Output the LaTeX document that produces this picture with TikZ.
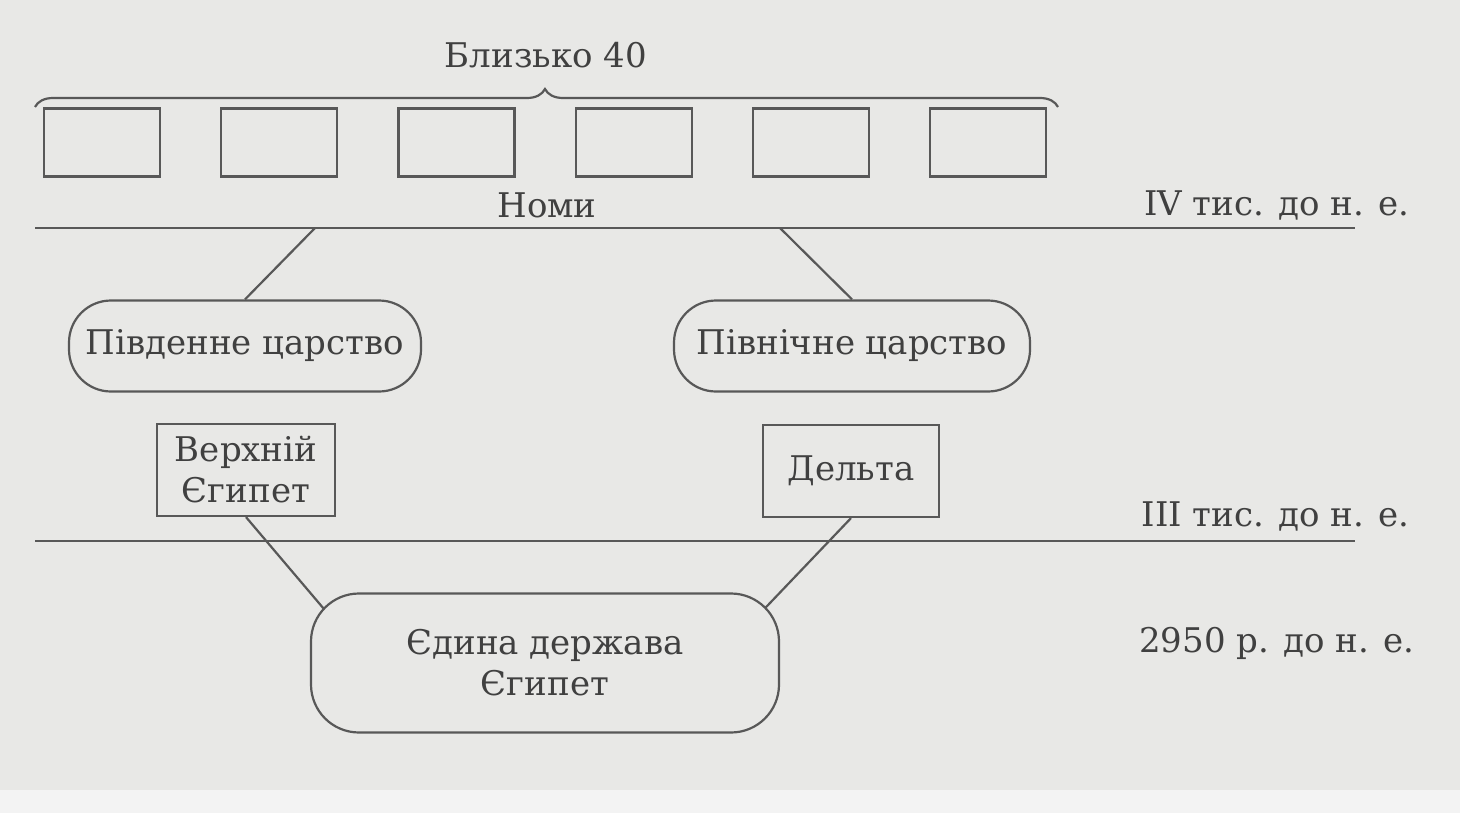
\documentclass[tikz,border=0pt]{standalone}
\usepackage{fontspec}
\setmainfont{DejaVu Serif}
\usepackage{xcolor}
\usepackage{tikz}
\usetikzlibrary{
  positioning,
  backgrounds,
  calc,
  decorations.pathreplacing
}
\tikzset{
  base/.style={
    rectangle, align=center, inner sep=0pt,
    draw=lineGray, line width=1.1pt, fill=pageGray, text=inkGray,
    font=\fontsize{17}{20.5}\selectfont
  },
  lbl/.style={font=\fontsize{17}{20.5}\selectfont, text=inkGray, inner sep=0pt},
  link/.style={draw=lineGray, line width=1.1pt}
}
\definecolor{pageGray}{HTML}{E8E8E6}
\definecolor{stripGray}{HTML}{F3F3F3}
\definecolor{lineGray}{HTML}{585858}
\definecolor{inkGray}{HTML}{404040}

\begin{document}
\begin{tikzpicture}[x=0.5pt, y=-0.5pt,
    cell/.style={base, minimum width=58pt, minimum height=34pt},
    kingdom/.style={base, rounded corners=21pt, minimum height=45.5pt},
    region/.style={base, minimum height=46pt},
    era/.style={lbl, anchor=east},
    rule/.style={draw=lineGray, line width=1.1pt}
  ]
  \useasboundingbox (0,0) rectangle (1460,813);
  \begin{scope}[on background layer]
    \fill[pageGray] (0,0) rectangle (1460,790);
    \fill[stripGray] (0,790) rectangle (1460,813);
  \end{scope}

  % nomes
  \node[lbl] (Count) at (546,55) {Близько 40};
  \node[cell] (N1) at (102,142.5) {};
  \node[cell, right=29.5pt of N1] (N2) {};
  \node[cell, right=29.5pt of N2] (N3) {};
  \node[cell, right=29.5pt of N3] (N4) {};
  \node[cell, right=29.5pt of N4] (N5) {};
  \node[cell, right=29.5pt of N5] (N6) {};
  \draw[rule, decorate, decoration={brace, amplitude=9pt, aspect=0.4985}]
    (35,107) -- (1058,107);

  \node[lbl] (Nomy) at (547,205) {Номи};
  \node[era] (E4) at (1410,205) {IV тис. до н. е.};
  \draw[rule] (35,228) -- (1355,228);
  \coordinate (n1) at (315,228);
  \coordinate (n2) at (780,228);

  % kingdoms
  \node[kingdom, minimum width=176pt] (South) at (245,346) {Південне царство};
  \node[kingdom, minimum width=178pt] (North) at (852,346) {Північне царство};

  \node[region, minimum width=89pt] (Upper) at (246,470) {Верхній\\Єгипет};
  \node[region, minimum width=88pt] (Delta) at (851,471) {Дельта};
  \node[era] (E3) at (1410,516) {III тис. до н. е.};
  \draw[rule] (35,541) -- (1355,541);

  % united state
  \node[base, rounded corners=24pt, minimum width=234pt, minimum height=69.5pt]
    (Egypt) at (545,663) {Єдина держава\\Єгипет};
  \node[era] (E2) at (1415,643) {2950 р. до н. е.};

  \begin{scope}[on background layer]
    \draw[link] (n1) -- (South.north);
    \draw[link] (n2) -- (North.north);
    \draw[link] (Upper.south) -- ($(Upper.south)!1.3!(Egypt.north west)$);
    \draw[link] (Delta.south) -- ($(Delta.south)!1.3!(Egypt.north east)$);
  \end{scope}

\end{tikzpicture}
\end{document}
